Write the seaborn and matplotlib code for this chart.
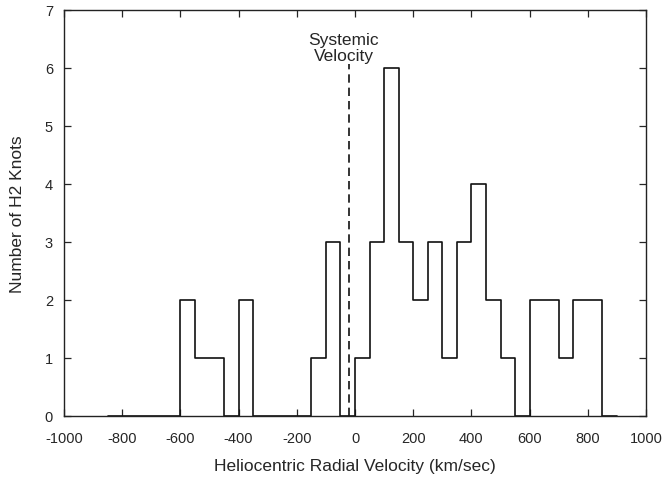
import numpy as np
import matplotlib
matplotlib.use("Agg")
import matplotlib.pyplot as plt
import seaborn as sns

# Histogram of H2 knot radial velocities, 50 km/s bins
bin_edges = list(range(-850, 901, 50))
knot_counts = [0, 0, 0, 0, 0, 2, 1, 1, 0, 2, 0, 0, 0, 0, 1, 3, 0,
               1, 3, 6, 3, 2, 3, 1, 3, 4, 2, 1, 0, 2, 2, 1, 2, 2, 0]
systemic_velocity = -20
x_ticks = [-1000, -800, -600, -400, -200, 0, 200, 400, 600, 800, 1000]
y_ticks = [0, 1, 2, 3, 4, 5, 6, 7]

bin_centers = [(a + b) / 2 for a, b in zip(bin_edges[:-1], bin_edges[1:])]

sns.set_theme(style="ticks")
plt.rcParams["font.family"] = ["Liberation Sans", "DejaVu Sans"]
plt.rcParams["axes.edgecolor"] = "#222222"
plt.rcParams["text.color"] = "#262626"
plt.rcParams["axes.labelcolor"] = "#262626"
plt.rcParams["xtick.color"] = "#262626"
plt.rcParams["ytick.color"] = "#262626"

fig = plt.figure(figsize=(6.63, 4.85), dpi=100)
ax = fig.add_axes([64 / 663, 1 - 417 / 485, (646 - 64) / 663, (417 - 11) / 485])

sns.histplot(x=bin_centers, weights=knot_counts, bins=bin_edges,
             element="step", fill=False, color="#111111", linewidth=1.2, ax=ax)

ax.plot([systemic_velocity, systemic_velocity], [0, 6.07],
        linestyle=(0, (5, 3)), color="#111111", linewidth=1.2)
ax.text(systemic_velocity - 18, 6.08, "Systemic\nVelocity", ha="center", va="bottom",
        fontsize=12.5, linespacing=1.1)

ax.set_xlim(-1000, 1000)
ax.set_ylim(0, 7)
ax.set_xticks(x_ticks)
ax.set_yticks(y_ticks)
ax.set_xticklabels([str(t) for t in x_ticks], fontsize=10.5)
ax.set_yticklabels([str(t) for t in y_ticks], fontsize=10.5)
ax.tick_params(direction="in", length=5, width=0.9, top=True, right=True)
ax.tick_params(axis="x", pad=11)
ax.tick_params(axis="y", pad=8)
for s in ax.spines.values():
    s.set_visible(True)
    s.set_linewidth(1.0)

ax.set_xlabel("Heliocentric Radial Velocity (km/sec)", fontsize=12.5, labelpad=9)
ax.set_ylabel("Number of H2 Knots", fontsize=12.5, labelpad=14)

fig.savefig("out.png", dpi=100)
